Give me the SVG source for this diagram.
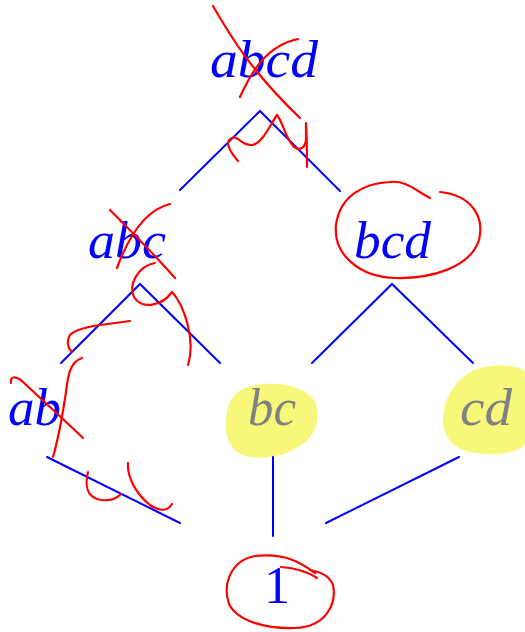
<svg xmlns="http://www.w3.org/2000/svg" width="525" height="632" viewBox="0 0 525 632">
<style>
.lbl{font-family:"Liberation Serif","DejaVu Serif",serif;font-style:italic;font-size:52px;fill:#0000ff}
.gray{fill:#808080}
.up{font-style:normal}
.edge{stroke:#0000ff;stroke-width:2;fill:none;stroke-linecap:round}
.ink{stroke:#ff0000;stroke-width:2.2;fill:none;stroke-linecap:round;stroke-linejoin:round}
.hl{fill:#f7f77a}
</style>
<rect width="525" height="632" fill="#ffffff"/>
<g id="highlights">
<path class="hl" d="M248,387 C272,380 305,384 315,402 C322,420 314,440 296,448 C282,457 262,460 246,456 C230,452 224,436 226,418 C228,400 236,390 248,387 Z"/>
<path class="hl" d="M470,372 C490,362 518,364 525,372 L525,445 C512,455 490,456 470,452 C452,448 442,435 443,418 C444,400 452,384 470,372 Z"/>
</g>
<g id="connectors">
<polyline class="edge" points="180,190 260,111 340,191"/>
<polyline class="edge" points="61,363 140,284 220,363"/>
<polyline class="edge" points="312,363 392,284 473,363"/>
<line class="edge" x1="47" y1="457" x2="180" y2="523"/>
<line class="edge" x1="273" y1="457" x2="273" y2="536"/>
<line class="edge" x1="459" y1="457" x2="326" y2="523"/>
</g>
<g id="node-abcd"><text class="lbl" x="210" y="77" textLength="108" lengthAdjust="spacingAndGlyphs">abcd</text></g>
<g id="node-abc"><text class="lbl" x="88" y="258" textLength="78" lengthAdjust="spacingAndGlyphs">abc</text></g>
<g id="node-bcd"><text class="lbl" x="354" y="258" textLength="77" lengthAdjust="spacingAndGlyphs">bcd</text></g>
<g id="node-ab"><text class="lbl" x="8" y="425" textLength="53" lengthAdjust="spacingAndGlyphs">ab</text></g>
<g id="node-bc"><text class="lbl gray" x="248" y="425" textLength="48" lengthAdjust="spacingAndGlyphs">bc</text></g>
<g id="node-cd"><text class="lbl gray" x="460" y="425" textLength="52" lengthAdjust="spacingAndGlyphs">cd</text></g>
<g id="node-1"><text class="lbl up" x="264" y="603" textLength="26" lengthAdjust="spacingAndGlyphs">1</text></g>
<g id="annotations">
<path class="ink" d="M213,6 C230,35 250,70 300,118"/>
<path class="ink" d="M240,97 C252,70 268,45 298,39"/>
<path class="ink" d="M238,161 C234,156 228,150 228,143 C229,138 234,136 238,139 C243,143 246,145 252,145 C262,144 270,125 277,115 C283,122 285,138 294,147 C300,151 305,148 306,140 C306,130 306,125 306,123 C307,140 307,155 307,167"/>
<path class="ink" d="M110,210 C130,230 152,252 175,278"/>
<path class="ink" d="M117,268 C128,238 145,210 170,204"/>
<path class="ink" d="M155,263 C138,266 128,285 134,297 C142,310 162,306 172,292 C184,305 196,340 188,365"/>
<path class="ink" d="M130,321 C110,324 78,326 70,335 C66,342 68,348 72,352"/>
<path class="ink" d="M82,358 C70,362 68,375 66,392 C63,412 58,440 53,457"/>
<path class="ink" d="M11,383 C10,376 15,376 22,381 C40,398 62,418 83,438"/>
<path class="ink" d="M88,472 C85,485 86,495 97,499 C108,502 116,499 121,494"/>
<path class="ink" d="M128,463 C127,477 136,494 150,505 C160,512 168,511 172,504"/>
<path class="ink" d="M430,198 C415,190 405,180 390,182 C365,183 340,195 336,225 C333,255 360,277 395,278 C430,279 470,268 479,240 C485,215 470,195 440,192"/>
<path class="ink" d="M315,573 C300,562 285,553 255,556 C232,560 222,583 229,604 C238,622 268,629 295,628 C325,627 337,605 333,585 C330,577 322,572 310,570"/>
<path class="ink" d="M281,567 C295,568 308,572 317,578"/>
</g>
</svg>
